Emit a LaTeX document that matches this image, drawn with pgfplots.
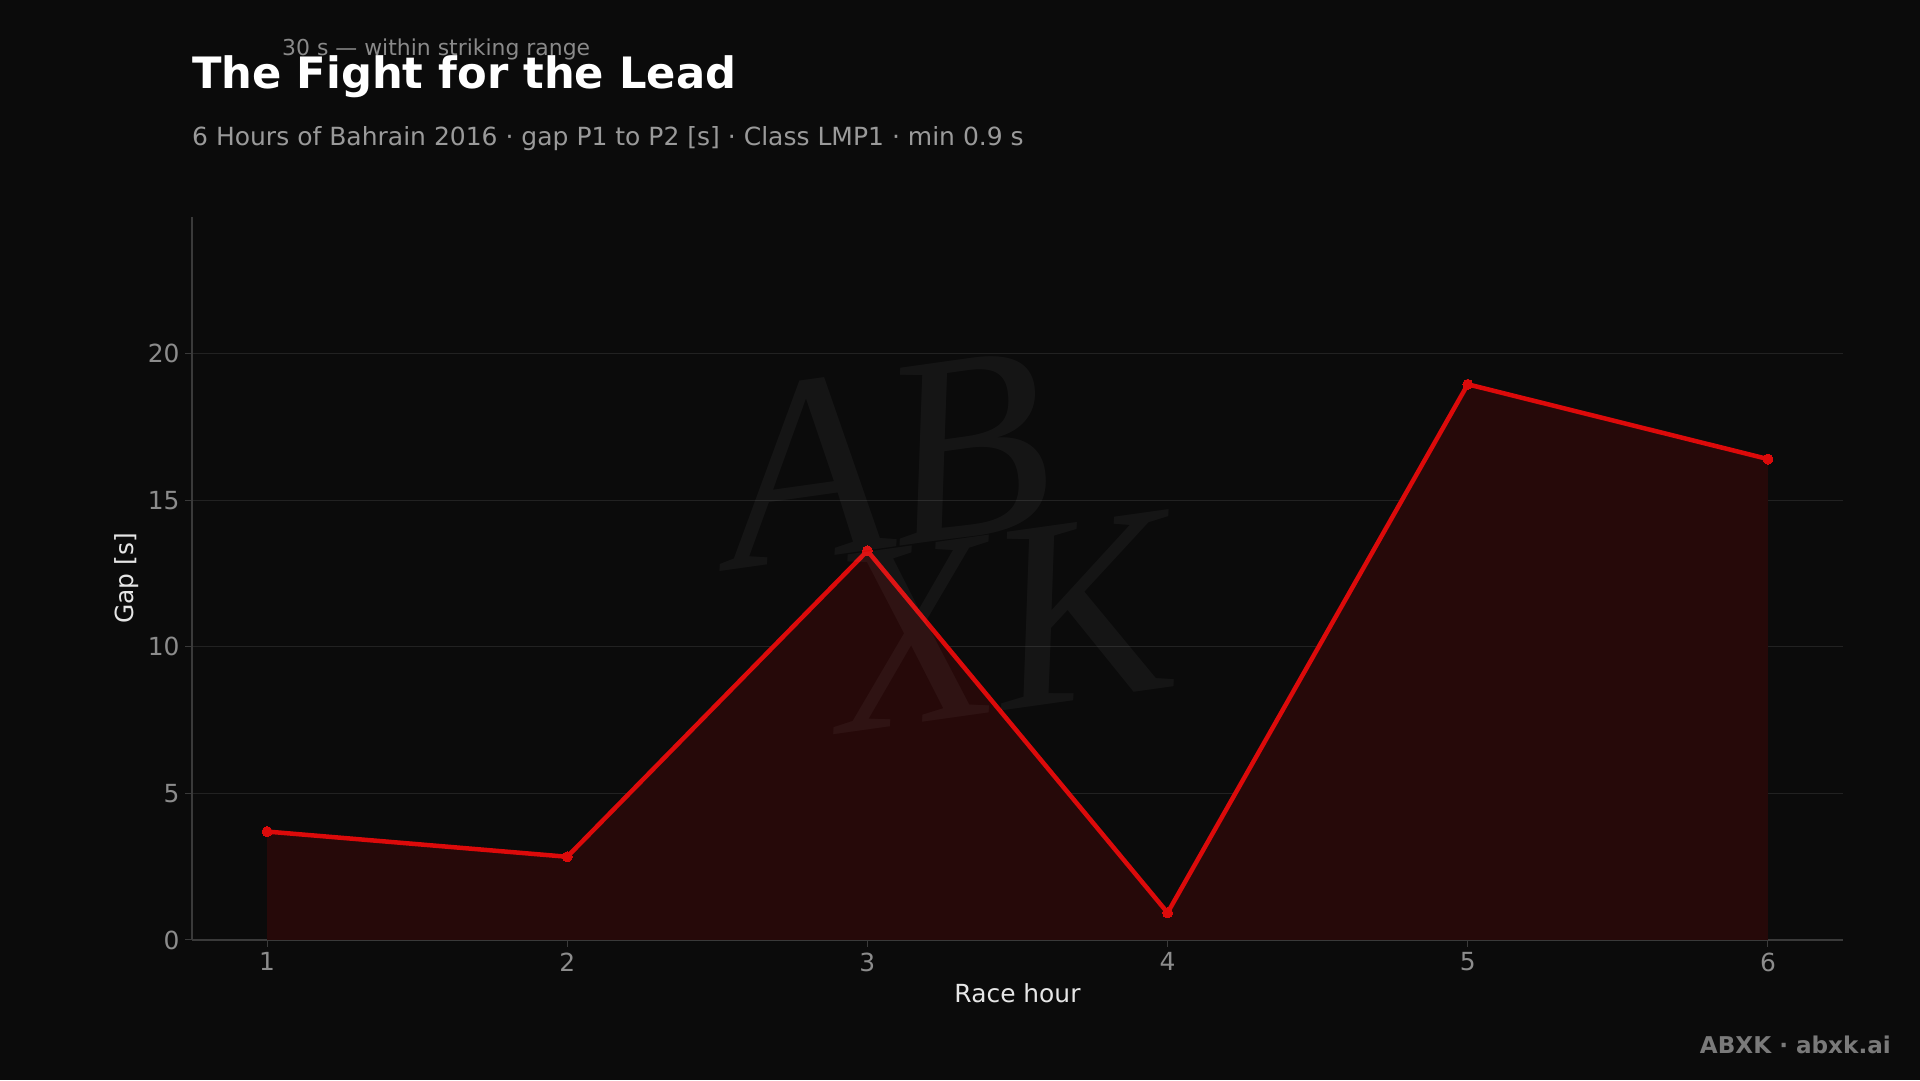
\documentclass[border=0pt]{standalone}
\usepackage{pgfplots}
\pgfplotsset{compat=1.18}
\usepackage{fontspec}
\setmainfont{DejaVu Sans}
\newfontfamily\wmfont{Liberation Serif}
\definecolor{bg}{HTML}{0B0B0B}
\definecolor{gridc}{HTML}{222222}
\definecolor{spine}{HTML}{3A3A3A}
\definecolor{tickc}{HTML}{8C8C8C}
\definecolor{labc}{HTML}{E6E6E6}
\definecolor{redl}{HTML}{DC0A0A}
\definecolor{fillc}{HTML}{260909}
\definecolor{subc}{HTML}{9A9A9A}
\definecolor{annc}{HTML}{8A8A8A}
\definecolor{footc}{HTML}{7A7A7A}
\begin{document}
\begin{tikzpicture}[x=1bp,y=1bp]
\fill[bg] (0,0) rectangle (1920,1080);
\path[use as bounding box] (0,0) rectangle (1920,1080);
\begin{axis}[
  at={(192bp,140bp)}, anchor=south west,
  scale only axis, width=1651bp, height=723bp,
  xmin=0.75, xmax=6.25, ymin=0, ymax=24.67,
  xtick={1,2,3,4,5,6}, ytick={0,5,10,15,20},
  axis x line*=bottom, axis y line*=left,
  axis line style={draw=spine, line width=1.2bp},
  every tick/.style={draw=spine, line width=1bp},
  major tick length=7bp,
  tick align=outside,
  ymajorgrids, grid style={draw=gridc, line width=1bp},
  /pgf/number format/assume math mode=true,
  ticklabel style={font=\fontsize{25}{29}\selectfont, text=tickc},
  xticklabel style={yshift=-2bp},
  yticklabel style={xshift=-2bp},
  xlabel={Race hour}, ylabel={Gap [s]},
  label style={font=\fontsize{25}{29}\selectfont, text=labc},
  xlabel style={at={(axis description cs:0.5,0)}, anchor=center, yshift=-53bp},
  ylabel style={at={(axis description cs:0,0.5)}, anchor=center, rotate=0, yshift=65bp},
  clip=false,
]
\addplot[draw=none, fill=fillc] coordinates {(1,3.7) (2,2.84) (3,13.28) (4,0.93) (5,18.96) (6,16.41)} \closedcycle;
\addplot[draw=redl, line width=4.5bp, line join=round, mark=*, mark size=5bp, mark options={fill=redl, draw=redl, line width=0bp}] coordinates {(1,3.7) (2,2.84) (3,13.28) (4,0.93) (5,18.96) (6,16.41)};
\end{axis}
% watermark
\node[font=\wmfont\itshape\fontsize{270}{270}\selectfont, text=white, opacity=0.045, rotate=8] at (885,621) {AB};
\node[font=\wmfont\itshape\fontsize{270}{270}\selectfont, text=white, opacity=0.045, rotate=8] at (1000,458) {XK};
% texts
\node[anchor=base west, inner sep=0, font=\bfseries\fontsize{43.4}{50}\selectfont, text=white] at (192,991) {The Fight for the Lead};
\node[anchor=base west, inner sep=0, font=\fontsize{25.1}{29}\selectfont, text=subc] at (192,934) {6 Hours of Bahrain 2016 · gap P1 to P2 [s] · Class LMP1 · min 0.9 s};
\node[anchor=base west, inner sep=0, font=\fontsize{22}{26}\selectfont, text=annc] at (282,1024) {30 s — within striking range};
\node[anchor=base east, inner sep=0, font=\bfseries\fontsize{23.2}{28}\selectfont, text=footc] at (1891,27) {ABXK · abxk.ai};
\end{tikzpicture}
\end{document}
